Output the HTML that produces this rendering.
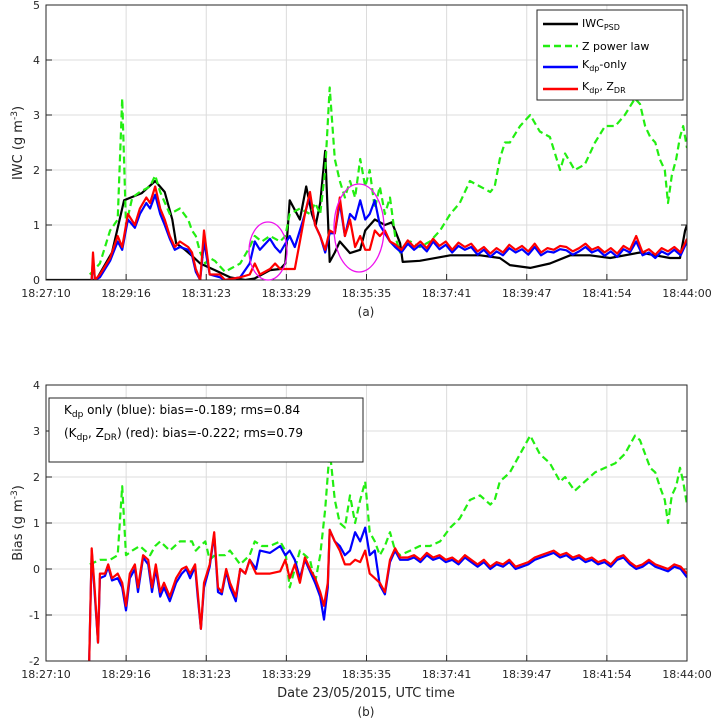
<!DOCTYPE html>
<html><head><meta charset="utf-8">
<style>
body{margin:0;background:#fff;}
svg{display:block;font-family:"DejaVu Sans","Liberation Sans",sans-serif;}
</style></head>
<body>
<svg id="chart" width="717" height="720" viewBox="0 0 717 720" xmlns="http://www.w3.org/2000/svg">
  <g id="topPanel"></g>
  <g id="botPanel"></g>
</svg>
<script>
// ---- data (times in seconds after 18:27:10) ----
const tickLabels = ["18:27:10","18:29:16","18:31:23","18:33:29","18:35:35","18:37:41","18:39:47","18:41:54","18:44:00"];
const topYTicks = [0,1,2,3,4,5];
const botYTicks = [-2,-1,0,1,2,3,4];
const tailTimes = [560,570,580,590,600,610,620,630,640,650,660,670,680,690,700,710,720,730,740,750,760,770,780,790,800,810,820,830,840,850,860,870,880,890,900,910,920,930,940,950,960,970,980,990,1000,1010];

const blackT = [0,79,104,123,151,172,187,199,205,219,232,243,266,290,314,329,353,369,377,384,400,410,419,425,432,440,447,455,463,479,495,503,518,534,545,558,562,589,637,684,715,731,763,794,826,857,889,936,983,999,1007,1010];
const blackV = [0,0,0.5,1.45,1.58,1.8,1.6,1.1,0.67,0.55,0.42,0.3,0.18,0.05,0,0.03,0.18,0.2,0.3,1.45,1.1,1.7,1.2,1.0,1.4,2.35,0.33,0.5,0.7,0.49,0.55,0.9,1.1,1.0,1.05,0.67,0.33,0.35,0.45,0.45,0.4,0.27,0.22,0.3,0.45,0.45,0.4,0.5,0.4,0.4,0.9,1.0];

const headT = [72,74,77,85,101,113,120,129,140,148,158,164,172,180,187,195,203,211,224,230,236,243,249,258,274,282,306,321,329,337,353,361,369,384,392,400,408,416,424,432,440,447,455,463,471,479,487,495,503,510,518,526,534,542,550];
const redTopHead = [0,0.5,0,0.1,0.4,0.8,0.6,1.2,1.0,1.3,1.5,1.4,1.7,1.3,1.1,0.8,0.6,0.7,0.6,0.5,0.2,0,0.9,0.1,0.1,0,0.05,0.1,0.3,0.1,0.2,0.3,0.2,0.2,0.2,0.7,1.2,1.6,1.0,0.8,0.55,0.9,0.85,1.5,0.8,1.1,0.6,0.8,0.55,0.55,0.9,0.8,0.9,0.7,0.65];
const redTopTail = [.55,.72,.6,.7,.58,.75,.62,.7,.55,.68,.6,.66,.52,.6,.48,.58,.5,.64,.55,.62,.52,.66,.5,.58,.55,.62,.6,.52,.58,.66,.55,.6,.5,.58,.48,.62,.55,.8,.5,.56,.46,.58,.52,.6,.5,.75];
const blueTopHead = [0,0.4,0,0.05,0.35,0.7,0.55,1.1,0.95,1.2,1.4,1.3,1.55,1.2,1.0,0.75,0.55,0.6,0.55,0.45,0.15,0,0.7,0.1,0.05,0,0.05,0.3,0.7,0.55,0.75,0.6,0.5,0.8,0.6,0.9,1.2,1.55,1.0,0.8,0.5,0.85,0.85,1.4,0.8,1.2,1.1,1.45,1.1,1.2,1.45,1.0,0.85,0.7,0.6];
const blueTopTail = [.5,.66,.55,.64,.52,.7,.56,.64,.5,.62,.55,.6,.46,.55,.42,.52,.45,.58,.5,.56,.46,.6,.45,.52,.5,.56,.54,.46,.52,.6,.5,.55,.44,.52,.42,.56,.5,.7,.45,.5,.4,.52,.46,.55,.45,.7];

const greenT = [69,85,101,113,120,126,136,148,164,172,180,195,211,224,230,236,243,251,258,266,282,290,306,321,329,340,353,369,377,384,400,416,424,432,440,447,455,463,471,479,487,495,503,510,518,526,534,542,550,558,574,589,605,621,637,652,668,684,700,707,715,723,731,747,763,778,794,802,810,818,833,849,865,881,897,912,928,936,944,952,960,967,975,980,986,993,999,1004,1010];
const greenTopV = [0.1,0.3,0.9,1.1,3.3,1.0,1.5,1.6,1.7,1.9,1.6,1.2,1.3,1.1,0.9,0.8,0.5,0.3,0.4,0.35,0.15,0.2,0.3,0.6,0.8,0.7,0.8,0.7,0.8,1.2,1.3,1.2,1.4,1.2,2.0,3.5,2.2,1.8,1.5,1.8,1.5,2.2,1.7,2.0,1.3,1.7,1.2,1.5,0.8,0.5,0.7,0.6,0.7,0.9,1.2,1.4,1.8,1.7,1.6,1.7,2.2,2.5,2.5,2.8,3.0,2.7,2.6,2.3,2.0,2.3,2.0,2.1,2.5,2.8,2.8,3.0,3.3,3.2,2.8,2.6,2.5,2.2,2.0,1.4,1.9,2.2,2.6,2.8,2.4];
const greenBotV = [0.1,0.2,0.2,0.3,1.8,0.3,0.4,0.5,0.3,0.5,0.6,0.4,0.6,0.6,0.6,0.4,0.5,0.6,0.2,0.3,0.3,0.4,0.1,0.3,0.6,0.5,0.5,0.6,0.4,-0.4,0.4,0.2,-0.3,0.3,1.3,2.6,1.5,1.0,0.9,1.6,1.0,1.5,1.9,0.8,0.6,0.3,0.5,0.8,0.4,0.3,0.4,0.5,0.5,0.6,0.9,1.1,1.5,1.6,1.4,1.5,1.9,2.0,2.1,2.5,2.9,2.5,2.3,2.1,1.9,2.0,1.7,1.9,2.1,2.2,2.3,2.5,2.9,2.8,2.5,2.2,2.1,1.8,1.5,1.0,1.6,1.8,2.2,1.9,1.4];

const botHeadT = [68,72,77,82,85,93,98,104,113,120,126,132,140,145,153,161,167,173,180,186,195,205,214,221,227,235,239,244,249,258,265,271,277,284,290,299,306,314,321,331,337,353,369,377,384,392,400,408,416,424,432,438,444,447,455,463,471,479,487,495,503,510,518,526,534,542,550,558];
const redBotHead = [-2,0.45,-0.5,-1.6,-0.1,-0.1,0.1,-0.2,-0.1,-0.3,-0.8,-0.1,0.1,-0.4,0.3,0.2,-0.4,0.1,-0.5,-0.3,-0.6,-0.2,0.0,0.05,-0.1,0.1,-0.5,-1.3,-0.3,0.1,0.8,-0.4,-0.5,0.0,-0.3,-0.6,0.0,-0.1,0.2,-0.1,-0.1,-0.1,-0.05,0.2,-0.2,0.1,-0.3,0.25,0.0,-0.2,-0.5,-0.8,-0.3,0.85,0.6,0.4,0.1,0.1,0.2,0.15,0.4,-0.1,-0.2,-0.3,-0.5,0.2,0.45,0.25];
const blueBotHead = [-2,0.4,-0.6,-1.6,-0.2,-0.15,0.05,-0.25,-0.2,-0.4,-0.9,-0.2,0.0,-0.5,0.25,0.1,-0.5,0.0,-0.6,-0.4,-0.7,-0.3,-0.1,0.0,-0.2,0.05,-0.6,-1.3,-0.4,0.05,0.75,-0.5,-0.55,-0.05,-0.4,-0.7,0.0,-0.1,0.2,0.0,0.4,0.35,0.5,0.3,0.4,0.2,-0.2,0.2,-0.05,-0.3,-0.6,-1.1,-0.4,0.85,0.6,0.5,0.3,0.4,0.8,0.6,0.9,0.3,0.4,-0.35,-0.55,0.15,0.4,0.2];
const redBotTail = [0.25,0.3,0.2,0.35,0.25,0.3,0.2,0.25,0.15,0.3,0.2,0.1,0.2,0.05,0.15,0.1,0.2,0.05,0.1,0.15,0.25,0.3,0.35,0.4,0.3,0.35,0.25,0.3,0.2,0.25,0.15,0.2,0.1,0.25,0.3,0.15,0.05,0.1,0.2,0.1,0.05,0.0,0.1,0.05,-0.1];
const blueBotTail = [0.2,0.25,0.15,0.3,0.2,0.25,0.15,0.2,0.1,0.25,0.15,0.05,0.15,0.0,0.1,0.05,0.15,0.0,0.05,0.1,0.2,0.25,0.3,0.35,0.25,0.3,0.2,0.25,0.15,0.2,0.1,0.15,0.05,0.2,0.25,0.1,0.0,0.05,0.15,0.05,0.0,-0.05,0.05,0.0,-0.18];

const topSeries = {
  black: [blackT, blackV],
  green: [greenT, greenTopV],
  blue: [headT.concat(tailTimes), blueTopHead.concat(blueTopTail)],
  red: [headT.concat(tailTimes), redTopHead.concat(redTopTail)]
};
const botSeries = {
  green: [greenT, greenBotV],
  blue: [botHeadT.concat(tailTimes.slice(1)), blueBotHead.concat(blueBotTail)],
  red: [botHeadT.concat(tailTimes.slice(1)), redBotHead.concat(redBotTail)]
};

// ---- drawing ----
const NS = "http://www.w3.org/2000/svg";
const X0 = 46, X1 = 687, TMAX = 1010;
function xs(t){ return X0 + (X1 - X0) * t / TMAX; }
function mk(tag, attrs, parent){
  const e = document.createElementNS(NS, tag);
  for (const k in attrs) e.setAttribute(k, attrs[k]);
  parent.appendChild(e); return e;
}
function panel(g, top, bottom, ymin, ymax, yTicks, series, id){
  const ys = v => bottom - (bottom - top) * (v - ymin) / (ymax - ymin);
  const bg = mk("rect", {x:X0, y:top, width:X1-X0, height:bottom-top, fill:"#fff"}, g);
  
  
  for (let i = 0; i < tickLabels.length; i++){
    const x = X0 + (X1 - X0) * i / (tickLabels.length - 1);
    const gl = mk("line", {x1:x, x2:x, y1:top, y2:bottom, stroke:"#dcdcdc", "stroke-width":1}, g);
    
    
    const tk = mk("line", {x1:x, x2:x, y1:bottom, y2:bottom-6, stroke:"#262626", "stroke-width":1}, g);
    
    
    const tl = mk("text", {x:x, y:bottom+17, "text-anchor":"middle", "font-size":"11", fill:"#262626"}, g);
    tl.textContent = tickLabels[i];
    
    
  }
  for (const v of yTicks){
    const y = ys(v);
    const gl = mk("line", {x1:X0, x2:X1, y1:y, y2:y, stroke:"#dcdcdc", "stroke-width":1}, g);
    
    
    const tk = mk("line", {x1:X0, x2:X0+6, y1:y, y2:y, stroke:"#262626"}, g);
    
    
    const tk2 = mk("line", {x1:X1, x2:X1-6, y1:y, y2:y, stroke:"#262626"}, g);
    
    
    const tl = mk("text", {x:X0-6, y:y+4, "text-anchor":"end", "font-size":"11", fill:"#262626"}, g);
    tl.textContent = String(v);
    
    
  }
  const clipId = id + "-clip";
  const defs = mk("defs", {}, g);
  const cp = mk("clipPath", {id:clipId}, defs);
  mk("rect", {x:X0, y:top, width:X1-X0, height:bottom-top}, cp);
  const styles = {
    black:{stroke:"#000", dash:null},
    green:{stroke:"#22ee11", dash:"7 4"},
    blue:{stroke:"#0000ff", dash:null},
    red:{stroke:"#ff0000", dash:null}
  };
  for (const k in series){
    const [T, V] = series[k];
    let d = "";
    for (let i = 0; i < T.length; i++) d += (i ? "L" : "M") + xs(T[i]).toFixed(1) + "," + ys(V[i]).toFixed(1);
    const a = {d:d, fill:"none", stroke:styles[k].stroke, "stroke-width":2.2, "stroke-linejoin":"round", "clip-path":"url(#"+clipId+")"};
    if (styles[k].dash) a["stroke-dasharray"] = styles[k].dash;
    const p = mk("path", a, g);
    
    
  }
  const fr = mk("rect", {x:X0, y:top, width:X1-X0, height:bottom-top, fill:"none", stroke:"#262626", "stroke-width":1}, g);
  
  
  return ys;
}
const gTop = document.getElementById("topPanel");
const gBot = document.getElementById("botPanel");
panel(gTop, 5, 280, 0, 5, topYTicks, topSeries, "top");
panel(gBot, 385, 661, -2, 4, botYTicks, botSeries, "bottom");
</script>
<svg width="717" height="720" style="position:absolute;left:0;top:0;font-family:'DejaVu Sans','Liberation Sans',sans-serif" xmlns="http://www.w3.org/2000/svg">
  <ellipse cx="268" cy="251" rx="19" ry="29" fill="none" stroke="#ee11ee" stroke-width="1.3"/>
  <ellipse cx="359" cy="228" rx="25" ry="44" fill="none" stroke="#ee11ee" stroke-width="1.3"/>
  <g>
    <rect x="537" y="10" width="146" height="90" fill="#fff" stroke="#262626" stroke-width="1"/>
    <g>
      <line x1="543" y1="24" x2="578" y2="24" stroke="#000" stroke-width="2.5"/>
      <text x="582" y="27" font-size="11" fill="#000">IWC<tspan font-size="8" dy="3">PSD</tspan></text>
    </g>
    <g>
      <line x1="543" y1="46" x2="578" y2="46" stroke="#22ee11" stroke-width="2.5" stroke-dasharray="7 4"/>
      <text x="582" y="50" font-size="11" fill="#000">Z power law</text>
    </g>
    <g>
      <line x1="543" y1="67" x2="578" y2="67" stroke="#0000ff" stroke-width="2.5"/>
      <text x="582" y="68" font-size="11" fill="#000">K<tspan font-size="8" dy="3">dp</tspan><tspan dy="-3">-only</tspan></text>
    </g>
    <g>
      <line x1="543" y1="89" x2="578" y2="89" stroke="#ff0000" stroke-width="2.5"/>
      <text x="582" y="90" font-size="11" fill="#000">K<tspan font-size="8" dy="3">dp</tspan><tspan dy="-3">, Z</tspan><tspan font-size="8" dy="3">DR</tspan></text>
    </g>
  </g>
  <g>
    <rect x="49" y="398" width="314" height="64" fill="#fff" stroke="#262626" stroke-width="1"/>
    <text x="64" y="414" font-size="12" fill="#000">K<tspan font-size="9" dy="3">dp</tspan><tspan dy="-3"> only (blue): bias=-0.189; rms=0.84</tspan></text>
    <text x="64" y="437" font-size="12" fill="#000">(K<tspan font-size="9" dy="3">dp</tspan><tspan dy="-3">, Z</tspan><tspan font-size="9" dy="3">DR</tspan><tspan dy="-3">) (red): bias=-0.222; rms=0.79</tspan></text>
  </g>
  <text transform="translate(22,143) rotate(-90)" text-anchor="middle" font-size="13" fill="#262626">IWC (g m<tspan font-size="9" dy="-5">-3</tspan><tspan dy="5">)</tspan></text>
  <text transform="translate(22,523) rotate(-90)" text-anchor="middle" font-size="13" fill="#262626">Bias  (g m<tspan font-size="9" dy="-5">-3</tspan><tspan dy="5">)</tspan></text>
  <text x="366" y="316" text-anchor="middle" font-size="12" fill="#262626">(a)</text>
  <text x="366" y="697" text-anchor="middle" font-size="13" fill="#262626">Date 23/05/2015, UTC time</text>
  <text x="366" y="716" text-anchor="middle" font-size="12" fill="#262626">(b)</text>
</svg>
</body></html>
